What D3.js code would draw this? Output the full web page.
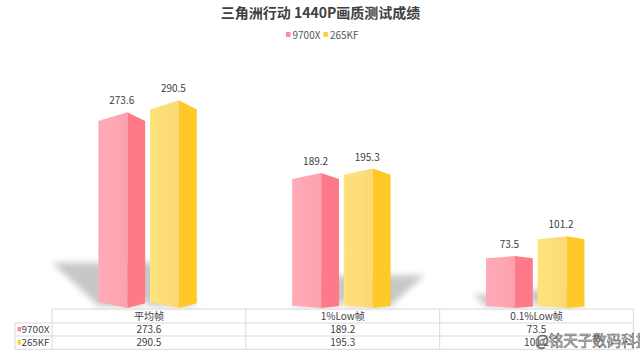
<!DOCTYPE html>
<html><head><meta charset="utf-8">
<script src="https://cdn.jsdelivr.net/npm/d3@7/dist/d3.min.js"></script>
<style>
html,body{margin:0;padding:0;background:#fff;}
svg{display:block;font-family:"Microsoft YaHei","Noto Sans CJK SC","Noto Sans",sans-serif;}
</style></head><body>
<script>
const title = "三角洲行动 1440P画质测试成绩";
const categories = ["平均帧", "1%Low帧", "0.1%Low帧"];
const seriesNames = ["9700X", "265KF"];
const values9700X = [273.6, 189.2, 73.5];
const values265KF = [290.5, 195.3, 101.2];
const watermark = "@铭天子数码科技";

const W = 640, H = 356;
const series = [
  {name: seriesNames[0], values: values9700X, front: "#FFA6B2", side: "#FF7A88", key: "#FF8A98"},
  {name: seriesNames[1], values: values265KF, front: "#FFDD78", side: "#FFC928", key: "#FFD040"}
];
const botSlant = [6, 2.5, 2];
const shadowDir = [-1, 1, -1];

const svg = d3.select("body").append("svg").attr("width", W).attr("height", H);
const defs = svg.append("defs");
defs.append("filter").attr("id", "blur").attr("x", "-50%").attr("y", "-50%").attr("width", "200%").attr("height", "200%")
  .append("feGaussianBlur").attr("stdDeviation", 3);
series.forEach((s, i) => {
  const g = defs.append("linearGradient").attr("id", "fg" + i).attr("x1", 0).attr("x2", 1).attr("y1", 0).attr("y2", 0);
  g.append("stop").attr("offset", "0%").attr("stop-color", d3.color(s.front).brighter(0.08));
  g.append("stop").attr("offset", "100%").attr("stop-color", d3.color(s.front).darker(0.05));
});

const x0 = d3.scaleBand().domain(categories).range([52, 633.5]).paddingInner(0);
const bwCat = x0.bandwidth();
const x1 = d3.scaleBand().domain(seriesNames).range([bwCat * 0.239, bwCat * 0.747]).paddingInner(0.093);
const y = d3.scaleLinear().domain([0, 350]).range([308.8, 57.5]);
const baseY = 308;

// title
svg.append("text").attr("x", 320.5).attr("y", 18).attr("text-anchor", "middle")
  .attr("font-size", 14).attr("font-weight", "bold").attr("fill", "#404040").text(title);

// legend
const legend = svg.append("g");
let lx = 286;
series.forEach((s, i) => {
  legend.append("rect").attr("x", lx).attr("y", 32).attr("width", 4.5).attr("height", 5).attr("fill", s.key);
  const t = legend.append("text").attr("x", lx + 6.5).attr("y", 38.5).attr("font-size", 10).attr("fill", "#595959").text(s.name);
  lx += 6.5 + t.node().getComputedTextLength() + 3;
});

// shadows
const shadowG = svg.append("g").attr("filter", "url(#blur)").attr("opacity", 0.55);
categories.forEach((c, ci) => {
  series.forEach(s => {
    const v = s.values[ci];
    const xl = x0(c) + x1(s.name), xr = xl + x1.bandwidth();
    const h = y(0) - y(v);
    const dx = shadowDir[ci] * Math.min(0.24 * h, 46), dy = -Math.min(0.22 * h, 44);
    const pts = [[xl, baseY - 2], [xr, baseY - 2], [xr + dx, baseY - 2 + dy], [xl + dx, baseY - 2 + dy]];
    shadowG.append("polygon").attr("points", pts.map(p => p.join(",")).join(" ")).attr("fill", "#9a9a9a");
  });
});

// bars
const barsG = svg.append("g");
categories.forEach((c, ci) => {
  series.forEach((s, si) => {
    const v = s.values[ci];
    const xl = x0(c) + x1(s.name), bw = x1.bandwidth(), xr = xl + bw, xm = xl + bw * 0.62;
    const yR = y(v);
    const sl = 0.044 * (y(0) - yR);
    const yS = yR + sl;
    const bs = botSlant[ci];
    const front = [[xl, yS], [xm, yR], [xm, baseY], [xl, baseY - bs]];
    const side = [[xm, yR], [xr, yS], [xr, baseY - bs * 0.8], [xm, baseY]];
    barsG.append("polygon").attr("points", front.map(p => p.join(",")).join(" ")).attr("fill", "url(#fg" + si + ")");
    barsG.append("polygon").attr("points", side.map(p => p.join(",")).join(" ")).attr("fill", s.side);
    barsG.append("text").attr("x", (xl + xr) / 2).attr("y", yR - 8).attr("text-anchor", "middle")
      .attr("font-size", 10).attr("fill", "#404040").text(v.toFixed(1));
  });
});

// data table
const tbl = svg.append("g");
const rowsY = [309, 323, 336, 349.3];
const lineC = "#d9d9d9";
const left = 15, colStart = x0.range()[0], right = x0.range()[1];
tbl.append("line").attr("x1", colStart).attr("x2", right).attr("y1", rowsY[0]).attr("y2", rowsY[0]).attr("stroke", lineC);
[1, 2, 3].forEach(r => tbl.append("line").attr("x1", left).attr("x2", right).attr("y1", rowsY[r]).attr("y2", rowsY[r]).attr("stroke", lineC));
tbl.append("line").attr("x1", left).attr("x2", left).attr("y1", rowsY[1]).attr("y2", rowsY[3]).attr("stroke", lineC);
categories.forEach(c => tbl.append("line").attr("x1", x0(c)).attr("x2", x0(c)).attr("y1", rowsY[0]).attr("y2", rowsY[3]).attr("stroke", lineC));
tbl.append("line").attr("x1", right).attr("x2", right).attr("y1", rowsY[0]).attr("y2", rowsY[3]).attr("stroke", lineC);

categories.forEach(c => {
  tbl.append("text").attr("x", x0(c) + bwCat / 2).attr("y", 319.5).attr("text-anchor", "middle")
    .attr("font-size", 10).attr("fill", "#404040").text(c);
});
series.forEach((s, si) => {
  const cy = (rowsY[si + 1] + rowsY[si + 2]) / 2;
  tbl.append("rect").attr("x", 17.5).attr("y", cy - 2.5).attr("width", 3.5).attr("height", 4.5).attr("fill", s.key);
  tbl.append("text").attr("x", 21.5).attr("y", cy + 3.3).attr("font-size", 9.5).attr("fill", "#404040")
    .attr("textLength", 28).attr("lengthAdjust", "spacingAndGlyphs").text(s.name);
  categories.forEach((c, ci) => {
    tbl.append("text").attr("x", x0(c) + bwCat / 2).attr("y", cy + 3.5).attr("text-anchor", "middle")
      .attr("font-size", 10).attr("fill", "#404040").text(s.values[ci].toFixed(1));
  });
});

// watermark
svg.append("text").attr("x", 535).attr("y", 346).attr("font-size", 14.5)
  .attr("fill", "#ffffff").attr("stroke", "#555").attr("stroke-width", 0.6).attr("paint-order", "fill")
  .text(watermark);
</script>
</body></html>
